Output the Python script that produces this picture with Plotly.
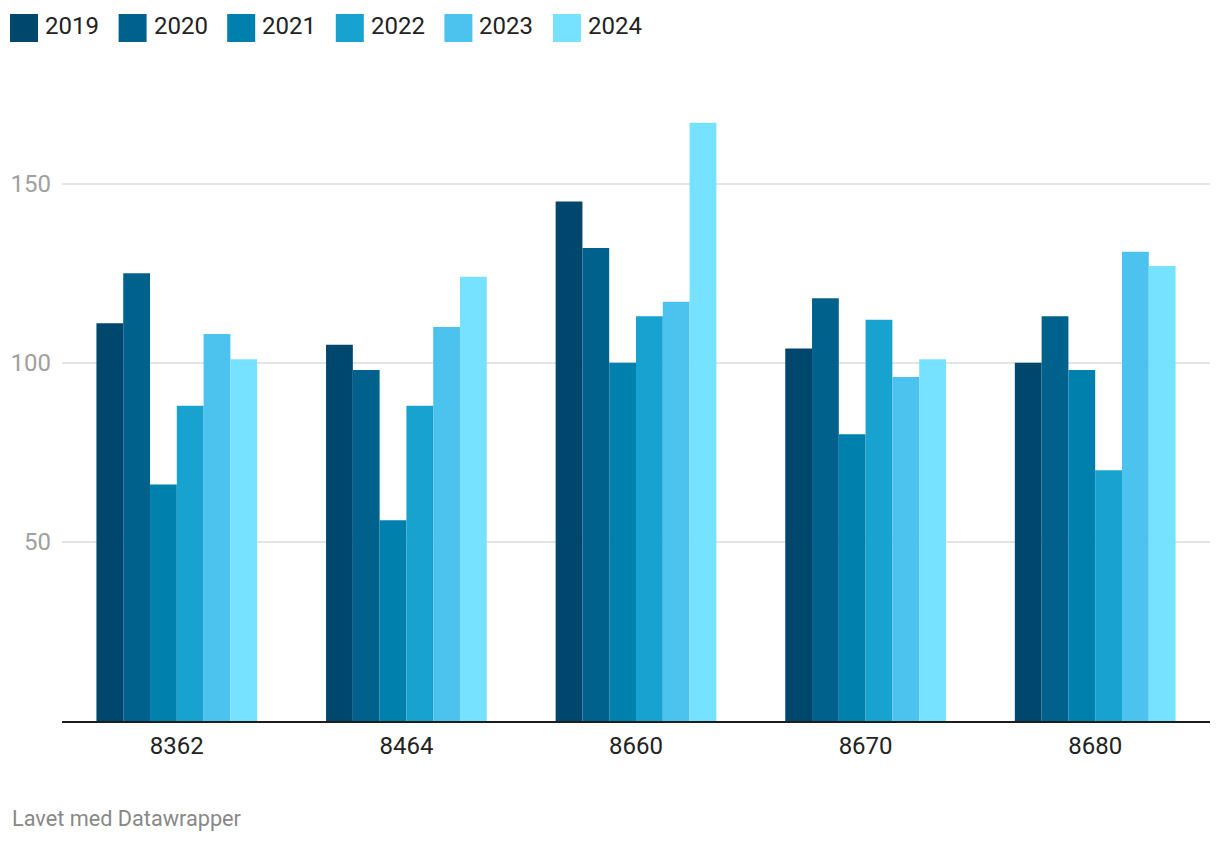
import plotly.graph_objects as go

categories = ["8362", "8464", "8660", "8670", "8680"]
years = ["2019", "2020", "2021", "2022", "2023", "2024"]
values_2019 = [111, 105, 145, 104, 100]
values_2020 = [125, 98, 132, 118, 113]
values_2021 = [66, 56, 100, 80, 98]
values_2022 = [88, 88, 113, 112, 70]
values_2023 = [108, 110, 117, 96, 131]
values_2024 = [101, 124, 167, 101, 127]
series = [values_2019, values_2020, values_2021, values_2022, values_2023, values_2024]
colors = ["#00476e", "#00628c", "#0081ad", "#18a2d0", "#4cc2ee", "#77e2ff"]
y_ticks = [50, 100, 150]

# page body has an 8px offset; work in screen pixels and convert
OFF = 8
W, H = 1220 - OFF, 844 - OFF
ML, MR, MT, MB = 62 - OFF, 10, 94 - OFF, 123
PW, PH = W - ML - MR, H - MT - MB

def px(x):
    return (x - OFF - ML) / PW

def py(y):
    return (H - MB - (y - OFF)) / PH

fig = go.Figure()
for yr, vals, col in zip(years, series, colors):
    fig.add_trace(go.Bar(x=categories, y=vals, name=yr, marker_color=col,
                         marker_line_width=0, showlegend=False))

# custom legend
shapes = []
annotations = []
for i, (yr, col) in enumerate(zip(years, colors)):
    x0 = 10 + i * 108.6
    shapes.append(dict(type="rect", xref="paper", yref="paper",
                       x0=px(x0), x1=px(x0 + 28), y0=py(42), y1=py(14),
                       fillcolor=col, line_width=0))
    annotations.append(dict(xref="paper", yref="paper", x=px(x0 + 33), y=py(26),
                            text=yr, showarrow=False, xanchor="left", yanchor="middle",
                            font=dict(family="Roboto", size=24, color="#222222")))

annotations.append(dict(xref="paper", yref="paper", x=px(10), y=py(818),
                        text="Lavet med Datawrapper", showarrow=False,
                        xanchor="left", yanchor="middle",
                        font=dict(family="Roboto", size=21.7, color="#888888")))

fig.update_layout(
    width=W, height=H,
    margin=dict(l=ML, r=MR, t=MT, b=MB, autoexpand=False),
    paper_bgcolor="white", plot_bgcolor="white",
    barmode="group", bargap=0.30, bargroupgap=0,
    shapes=shapes, annotations=annotations,
    font=dict(family="Roboto"),
)
fig.update_xaxes(range=[-0.5, 4.5], showgrid=False, showline=True,
                 linecolor="#1d1d1d", linewidth=2, ticks="", automargin=False,
                 tickfont=dict(family="Roboto", size=24, color="#222222"),
                 ticklabelstandoff=2)
fig.update_yaxes(range=[0, 175], tickvals=y_ticks, showgrid=True,
                 gridcolor="#e4e4e4", gridwidth=2, zeroline=False,
                 ticks="", ticklabelstandoff=10, automargin=False,
                 tickfont=dict(family="Roboto", size=24, color="#a0a0a0"))

fig.write_html("out.html")
